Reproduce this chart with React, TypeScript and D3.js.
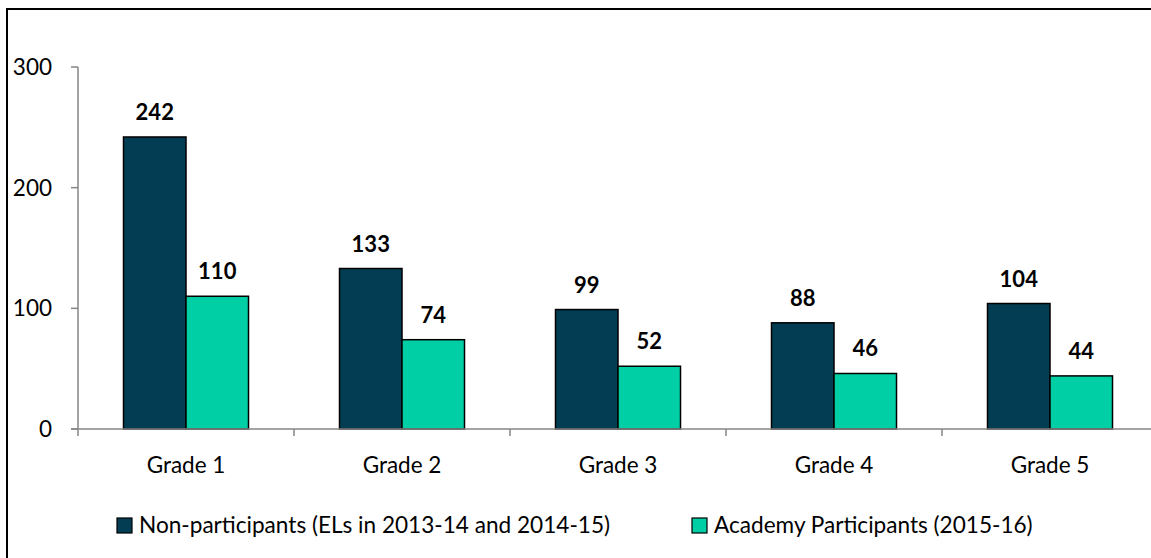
import { useEffect, useRef } from 'react'
import * as d3 from 'd3'

const grades = ['Grade 1', 'Grade 2', 'Grade 3', 'Grade 4', 'Grade 5']
const nonParticipants = [242, 133, 99, 88, 104]
const academyParticipants = [110, 74, 52, 46, 44]
const yTicks = [0, 100, 200, 300]
const seriesNames = ['Non-participants (ELs in 2013-14 and 2014-15)', 'Academy Participants (2015-16)']
const colors = ['#023d54', '#00cfa6']

const W = 1151
const H = 558
const FONT = 'Lato, "Open Sans", sans-serif'

export default function App() {
  const svgRef = useRef<SVGSVGElement>(null)

  useEffect(() => {
    if (!svgRef.current) return
    const svg = d3.select(svgRef.current)
    svg.selectAll('*').remove()

    const left = 78
    const right = 1158
    const top = 67
    const bottom = 429

    // outer chart border (only top and left visible in the crop)
    svg.append('path')
      .attr('d', `M7,${H + 2} V9 H${W + 2}`)
      .attr('fill', 'none')
      .attr('stroke', '#000')
      .attr('stroke-width', 2)

    const x = d3.scaleBand<string>().domain(grades).range([left, right])
    const y = d3.scaleLinear().domain([0, 300]).range([bottom, top])
    const barW = 62.5

    // y axis
    svg.append('line')
      .attr('x1', left).attr('x2', left)
      .attr('y1', y(300)).attr('y2', y(0))
      .attr('stroke', '#868686').attr('stroke-width', 1.5)
    yTicks.forEach(t => {
      svg.append('line')
        .attr('x1', left - 7).attr('x2', left)
        .attr('y1', y(t)).attr('y2', y(t))
        .attr('stroke', '#868686').attr('stroke-width', 1.5)
      svg.append('text')
        .attr('x', 52).attr('y', y(t))
        .attr('dy', '0.35em')
        .attr('text-anchor', 'end')
        .attr('font-family', FONT)
        .attr('font-size', 22.5)
        .attr('fill', '#000')
        .text(t)
    })

    // bars
    const series = [nonParticipants, academyParticipants]
    series.forEach((vals, s) => {
      grades.forEach((g, i) => {
        const cx = x(g)! + x.bandwidth() / 2
        const bx = s === 0 ? cx - barW : cx
        svg.append('rect')
          .attr('x', bx)
          .attr('y', y(vals[i]))
          .attr('width', barW)
          .attr('height', y(0) - y(vals[i]))
          .attr('fill', colors[s])
          .attr('stroke', '#000')
          .attr('stroke-width', 1.5)
        svg.append('text')
          .attr('x', bx + barW / 2)
          .attr('y', y(vals[i]) - 17)
          .attr('text-anchor', 'middle')
          .attr('font-family', FONT)
          .attr('font-weight', 'bold')
          .attr('font-size', 22)
          .attr('fill', '#000')
          .text(vals[i])
      })
    })

    // x axis
    svg.append('line')
      .attr('x1', left - 7).attr('x2', right)
      .attr('y1', y(0)).attr('y2', y(0))
      .attr('stroke', '#868686').attr('stroke-width', 1.5)
    grades.forEach((g, i) => {
      const tx = left + i * x.bandwidth()
      svg.append('line')
        .attr('x1', tx).attr('x2', tx)
        .attr('y1', y(0)).attr('y2', y(0) + 7)
        .attr('stroke', '#868686').attr('stroke-width', 1.5)
      svg.append('text')
        .attr('x', x(g)! + x.bandwidth() / 2)
        .attr('y', 465)
        .attr('dy', '0.35em')
        .attr('text-anchor', 'middle')
        .attr('font-family', FONT)
        .attr('font-size', 22.5)
        .attr('fill', '#000')
        .text(g)
    })

    // legend
    const legendX = [117, 692]
    seriesNames.forEach((name, s) => {
      svg.append('rect')
        .attr('x', legendX[s]).attr('y', 518)
        .attr('width', 15).attr('height', 15)
        .attr('fill', colors[s])
        .attr('stroke', '#000').attr('stroke-width', 1.2)
      svg.append('text')
        .attr('x', legendX[s] + 22)
        .attr('y', 525)
        .attr('dy', '0.35em')
        .attr('font-family', FONT)
        .attr('font-size', 22.6)
        .attr('fill', '#000')
        .text(name)
    })
  }, [])

  return (
    <div style={{ position: 'absolute', left: 0, top: 0 }}>
      <svg ref={svgRef} width={W} height={H} style={{ display: 'block', background: '#fff' }} />
    </div>
  )
}
